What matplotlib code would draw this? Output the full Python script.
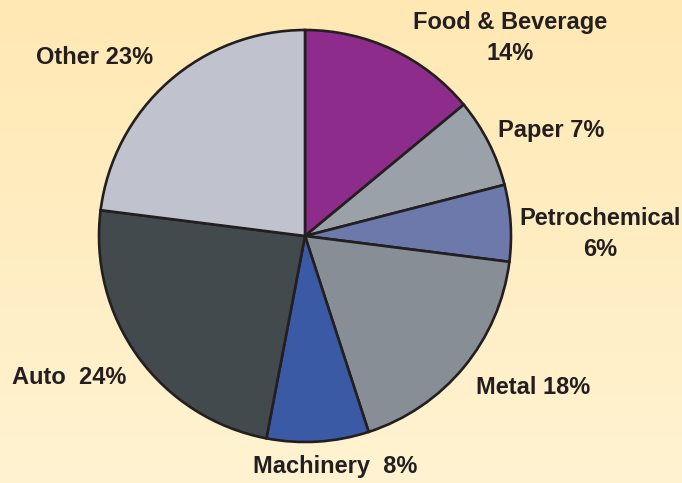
import numpy as np
import matplotlib
matplotlib.use('Agg')
import matplotlib.pyplot as plt
from matplotlib.colors import LinearSegmentedColormap

# shares in percent, clockwise from 12 o'clock
sectors = ['Food & Beverage', 'Paper', 'Petrochemical', 'Metal', 'Machinery', 'Auto', 'Other']
shares = [14, 7, 6, 18, 8, 24, 23]
colors = ['#8E2C8C', '#9AA1A8', '#6C79AA', '#878E95', '#3B5AA6', '#434A4D', '#C0C3CD']
labels = ['Food & Beverage\n14%', 'Paper 7%', 'Petrochemical\n6%', 'Metal 18%',
          'Machinery  8%', 'Auto  24%', 'Other 23%']
# label centres in pixels (x from left, y from top)
label_xy = [(510, 38), (551, 131), (600, 234), (533, 387), (335, 467), (69, 378), (95, 57)]

W, H = 682, 483
fig = plt.figure(figsize=(W / 100, H / 100), dpi=100)
ax = fig.add_axes([0, 0, 1, 1])

# soft yellow background, a bit deeper at the top
bg = LinearSegmentedColormap.from_list('bg', ['#FFF3D1', '#FFE8B3'])
grad = np.linspace(0, 1, 256).reshape(-1, 1)
ax.imshow(grad, cmap=bg, extent=[0, W, 0, H], origin='lower', aspect='auto', zorder=0)

ax.pie(shares, colors=colors, startangle=90, counterclock=False,
       center=(305, H - 236), radius=206, frame=True,
       wedgeprops=dict(edgecolor='#231F20', linewidth=1.9))
ax.set_xlim(0, W)
ax.set_ylim(0, H)
ax.set_aspect('equal')
ax.axis('off')

for lab, (x, y) in zip(labels, label_xy):
    ax.text(x, H - y, lab, ha='center', va='center', fontsize=17,
            fontweight='bold', family='Liberation Sans', color='#231F20',
            linespacing=1.45)

fig.savefig('out.png', dpi=100)
